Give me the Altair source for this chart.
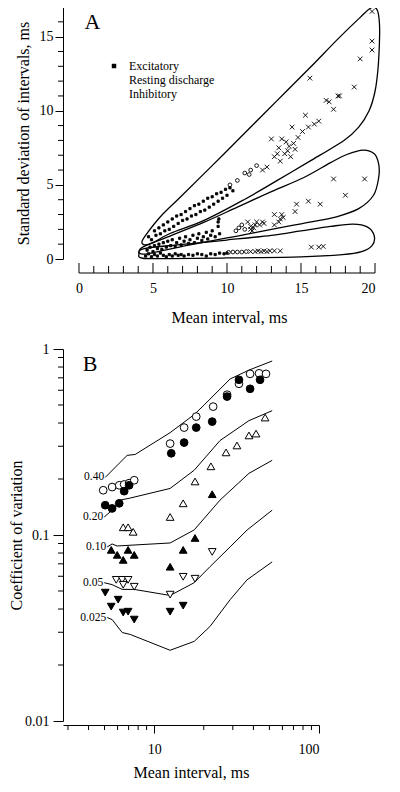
import altair as alt
import pandas as pd

FONT = "Liberation Serif"

# ======================= Panel A data =======================
kinds = ["Excitatory", "Resting discharge", "Inhibitory"]

exc_x = [4.7, 4.9, 5.1, 5.2, 5.4, 5.5, 5.7, 5.8, 6.0, 6.1, 6.3, 6.4, 6.6, 6.7, 6.9, 7.0, 7.2, 7.3, 7.5, 7.6,
         7.8, 7.9, 8.1, 8.2, 8.4, 8.5, 8.7, 8.8, 9.0, 9.1, 9.3, 9.4, 9.6, 9.7, 9.9, 10.0, 10.2, 10.4,
         4.6, 4.8, 5.0, 5.1, 5.3, 5.4, 5.6, 5.7, 5.9, 6.0, 6.2, 6.3, 6.5, 6.6, 6.8, 6.9, 7.1, 7.2, 7.4, 7.5,
         7.7, 7.8, 8.0, 8.1, 8.3, 8.4, 8.6, 8.7, 8.9, 9.0, 9.2, 9.4, 9.4, 9.45, 9.5,
         4.5, 4.7, 4.9, 5.1, 5.3, 5.5, 5.7, 5.9, 6.1, 6.3, 6.5, 6.7, 6.9, 7.1, 7.4, 7.7, 8.0, 8.3, 8.6, 8.9,
         9.2, 9.5, 9.8, 10.0]
exc_y = [1.5, 1.3, 1.9, 1.6, 2.1, 1.7, 2.3, 1.9, 2.5, 2.0, 2.7, 2.2, 2.9, 2.4, 3.0, 2.6, 3.2, 2.7, 3.4, 2.9,
         3.6, 3.0, 3.7, 3.2, 3.9, 3.3, 4.1, 3.5, 4.2, 3.7, 4.4, 3.9, 4.5, 4.1, 4.7, 4.3, 4.8, 4.6,
         0.6, 0.8, 0.5, 0.9, 0.7, 1.0, 0.65, 1.1, 0.8, 1.2, 0.9, 1.3, 0.85, 1.1, 1.4, 0.95, 1.2, 1.5, 1.05, 1.3,
         1.6, 1.1, 1.4, 1.7, 1.25, 1.5, 1.8, 1.35, 1.6, 1.9, 1.5, 2.2, 2.5, 2.7, 1.7,
         0.2, 0.35, 0.15, 0.3, 0.2, 0.4, 0.25, 0.15, 0.3, 0.2, 0.35, 0.25, 0.3, 0.2, 0.3, 0.25, 0.35, 0.3, 0.2, 0.35,
         0.3, 0.4, 0.35, 0.4]

rest_x = [10.2, 10.7, 11.2, 11.5, 11.6, 12.0, 10.6, 10.8, 11.0, 11.2, 10.1, 10.4, 10.7, 11.0, 11.3]
rest_y = [5.0, 5.3, 5.8, 5.7, 6.0, 6.3, 1.9, 2.1, 2.3, 2.0, 0.45, 0.47, 0.47, 0.47, 0.5]

inh_x = [19.8, 19.8, 19.8, 19.0, 15.6, 18.6, 16.7, 16.9, 17.5, 17.6, 17.2, 15.3, 14.4, 15.1, 15.5, 15.9, 16.2,
         13.0, 13.7, 14.0, 14.2, 14.5, 14.1, 14.6, 13.9, 14.3, 13.5, 13.4, 13.2, 12.7, 12.4, 13.6, 14.8,
         17.2, 19.3, 18.0, 15.5, 16.3, 14.7, 14.6, 13.2, 13.7, 13.6, 13.2, 11.4, 12.0, 12.4, 12.5, 11.6,
         11.7, 11.8, 11.9, 11.6, 12.2, 13.5, 13.8,
         11.6, 11.9, 12.1, 12.3, 12.5, 12.7, 12.9, 13.2, 13.6, 15.7, 16.2, 16.5]
inh_y = [16.7, 14.7, 14.1, 13.5, 12.2, 11.6, 10.7, 10.6, 11.0, 11.0, 10.1, 9.7, 8.9, 8.6, 8.9, 9.1, 9.3,
         8.1, 8.1, 7.9, 7.6, 7.8, 7.3, 7.4, 7.1, 6.9, 7.5, 7.1, 6.9, 6.2, 6.0, 6.6, 8.2,
         5.4, 5.4, 4.3, 3.9, 3.7, 3.7, 3.2, 3.0, 3.0, 2.7, 2.3, 2.5, 2.5, 2.5, 2.4, 2.2,
         1.9, 2.1, 2.3, 2.0, 2.3, 2.5, 2.8,
         0.5, 0.5, 0.55, 0.5, 0.55, 0.5, 0.55, 0.55, 0.55, 0.8, 0.8, 0.85]

# outlines drawn round the three groups
loop1_x = [4.45, 4.25, 4.5, 5.5, 6.82, 9.0, 11.15, 13.4, 15.6, 17.5, 19.0, 19.75, 20.15, 20.3, 20.3, 20.2, 20.0,
           19.6, 18.9, 17.9, 15.6, 13.4, 11.15, 8.45, 6.15, 5.0]
loop1_y = [0.95, 1.15, 1.6, 2.85, 4.15, 6.3, 8.45, 10.7, 12.9, 14.85, 16.3, 16.95, 16.8, 15.9, 14.6, 12.8, 11.3,
           10.0, 8.9, 8.0, 6.6, 5.3, 4.0, 2.6, 1.72, 1.1]
loop2_x = [4.3, 4.05, 4.4, 6.15, 8.5, 10.7, 13.0, 15.2, 17.0, 18.1, 19.2, 19.95, 20.25, 20.25, 19.9, 18.9, 17.4,
           15.7, 14.05, 10.7, 7.5, 5.0]
loop2_y = [0.33, 0.5, 0.85, 1.55, 2.5, 3.5, 4.55, 5.5, 6.5, 7.05, 7.35, 7.1, 6.4, 5.5, 4.3, 3.4, 2.85,
           2.5, 2.2, 1.55, 0.95, 0.42]
loop3_x = [4.3, 4.05, 4.4, 7.0, 10.0, 13.0, 15.0, 17.0, 18.5, 19.5, 19.95, 19.8, 19.1, 17.8, 15.0, 10.0, 6.0]
loop3_y = [0.05, 0.3, 0.7, 0.98, 1.28, 1.6, 1.9, 2.2, 2.35, 2.15, 1.55, 0.9, 0.5, 0.3, 0.15, 0.07, 0.03]

a_x_major = [0, 5, 10, 15, 20]
a_x_minor = [1, 2, 3, 4, 6, 7, 8, 9, 11, 12, 13, 14, 16, 17, 18, 19]
a_y_major = [0, 5, 10, 15]
a_y_minor = [1, 2, 3, 4, 6, 7, 8, 9, 11, 12, 13, 14, 16, 17]
a_label = {"t": ["A"], "x": [0.91], "y": [15.96]}

# ======================= Panel B data =======================
curve_names = ["0.40", "0.20", "0.10", "0.05", "0.025"]
c040_x = [5.05, 6.14, 6.86, 7.67, 12.5, 17.5, 20.1, 28.9, 37.6, 52]
c040_y = [0.204, 0.243, 0.268, 0.271, 0.355, 0.444, 0.50, 0.69, 0.77, 0.862]
c020_x = [4.98, 5.56, 6.22, 7.16, 12.5, 17.5, 25.1, 37.6, 52]
c020_y = [0.125, 0.136, 0.154, 0.158, 0.178, 0.223, 0.322, 0.412, 0.466]
c010_x = [5.19, 5.56, 5.96, 12.5, 17.5, 25.1, 37.6, 52]
c010_y = [0.0863, 0.0895, 0.0873, 0.0906, 0.1065, 0.154, 0.2146, 0.252]
c005_x = [4.98, 5.56, 6.40, 7.57, 12.5, 17.5, 21.8, 28.9, 36.6, 52]
c005_y = [0.0554, 0.0541, 0.051, 0.051, 0.0473, 0.0554, 0.0675, 0.0863, 0.1063, 0.136]
c0025_x = [5.19, 5.56, 6.4, 7.16, 12.5, 17.5, 21.8, 28.9, 36.6, 52]
c0025_y = [0.036, 0.0351, 0.0299, 0.0292, 0.024, 0.0268, 0.0322, 0.0449, 0.0574, 0.0717]

series = ["oc", "fc", "otu", "ftu", "otd", "ftd"]
oc_x = [4.91, 5.56, 6.14, 6.58, 7.05, 7.57, 12.5, 15.2, 18.0, 22.8, 27.7, 32.7, 38.2, 43.3, 47.7]
oc_y = [0.174, 0.181, 0.185, 0.187, 0.190, 0.197, 0.310, 0.378, 0.433, 0.490, 0.568, 0.650, 0.735, 0.74, 0.735]
fc_x = [5.05, 5.56, 6.14, 6.58, 7.05, 12.7, 15.2, 18.0, 22.5, 27.7, 32.7, 38.2, 43.9]
fc_y = [0.1446, 0.139, 0.148, 0.172, 0.185, 0.275, 0.314, 0.378, 0.407, 0.555, 0.683, 0.611, 0.683]
otu_x = [6.49, 6.95, 7.46, 12.5, 15.0, 17.7, 22.1, 27.3, 31.8, 37.6, 41.5, 47.1]
otu_y = [0.110, 0.110, 0.104, 0.125, 0.148, 0.194, 0.234, 0.278, 0.303, 0.343, 0.351, 0.428]
ftu_x = [5.49, 5.97, 6.49, 6.95, 7.57, 12.5, 15.0, 17.7, 22.5]
ftu_y = [0.0832, 0.0782, 0.0735, 0.0832, 0.0782, 0.0675, 0.0832, 0.0964, 0.1657]
otd_x = [5.89, 6.40, 6.95, 6.49, 7.57, 12.5, 15.0, 17.7, 22.5]
otd_y = [0.0574, 0.0574, 0.0574, 0.054, 0.0527, 0.0478, 0.0596, 0.0582, 0.0811]
ftd_x = [5.05, 5.49, 6.05, 6.49, 6.95, 7.57, 12.5, 15.0]
ftd_y = [0.049, 0.0412, 0.0449, 0.0383, 0.0387, 0.0351, 0.0387, 0.0417]

b_x_major = [10, 100]
b_x_minor = [3, 4, 5, 6, 7, 8, 9, 20, 30, 40, 50, 60, 70, 80, 90]
b_y_major = [0.01, 0.1, 1]
b_y_minor = [0.02, 0.03, 0.04, 0.05, 0.06, 0.07, 0.08, 0.09, 0.2, 0.3, 0.4, 0.5, 0.6, 0.7, 0.8, 0.9]
b_label = {"t": ["B"], "x": [4.09], "y": [0.831]}

# ======================= Panel A chart =======================
WA, HA = 312, 252
xA = alt.Scale(domain=[-1.08, 20], nice=False, zero=False)
yA = alt.Scale(domain=[0, 17], nice=False, zero=False)
axXA = alt.Axis(values=a_x_major, domain=False, ticks=False, offset=14, labelPadding=8,
                title="Mean interval, ms", titlePadding=14, titleX=166, grid=False)
axYA = alt.Axis(values=a_y_major, tickSize=8, labelPadding=2,
                title="Standard deviation of intervals, ms", titlePadding=8, grid=False)

def XA(f):
    return alt.X(f, scale=xA, axis=axXA)

def YA(f):
    return alt.Y(f, scale=yA, axis=axYA)

dfA = pd.concat([
    pd.DataFrame({"x": exc_x, "y": exc_y, "kind": kinds[0], "sz": 5}),
    pd.DataFrame({"x": rest_x, "y": rest_y, "kind": kinds[1], "sz": 14}),
    pd.DataFrame({"x": inh_x, "y": inh_y, "kind": kinds[2], "sz": 22}),
], ignore_index=True)

dfLoops = pd.concat([
    pd.DataFrame({"loop": n, "i": list(range(len(xs))), "x": xs, "y": ys})
    for n, xs, ys in [("l1", loop1_x, loop1_y), ("l2", loop2_x, loop2_y), ("l3", loop3_x, loop3_y)]
], ignore_index=True)

legA = alt.Legend(title=None, orient="none", legendX=45, legendY=53, labelFont=FONT, labelFontSize=12,
                  labelColor="black", symbolSize=20, symbolStrokeWidth=1, symbolStrokeColor="black",
                  rowPadding=2, labelOffset=9, padding=0)

loops = alt.Chart(dfLoops).mark_line(interpolate="cardinal-closed", color="black", strokeWidth=1.3).encode(
    x=XA("x:Q"), y=YA("y:Q"), detail="loop:N", order="i:Q")

ptsA = alt.Chart(dfA).mark_point(stroke="black", strokeWidth=0.9, opacity=1).encode(
    x=XA("x:Q"), y=YA("y:Q"),
    shape=alt.Shape("kind:N", scale=alt.Scale(domain=kinds, range=["square", "circle", "M-1,-1L1,1M-1,1L1,-1"]),
                    legend=legA),
    fill=alt.Fill("kind:N", scale=alt.Scale(domain=kinds, range=["black", "transparent", "transparent"]),
                  legend=legA),
    size=alt.Size("sz:Q", scale=None),
)

yminA = alt.Chart(pd.DataFrame({"y": a_y_minor})).mark_rule(color="black", strokeWidth=1).encode(
    y=YA("y:Q"), x=alt.value(-5), x2=alt.value(0))

xlineA = alt.Chart(pd.DataFrame({"x": [a_x_major[0]], "x2": [a_x_major[-1]]})).mark_rule(color="black", strokeWidth=1).encode(
    x=XA("x:Q"), x2="x2:Q", y=alt.value(HA + 14))
xmajA = alt.Chart(pd.DataFrame({"x": a_x_major})).mark_rule(color="black", strokeWidth=1).encode(
    x=XA("x:Q"), y=alt.value(HA + 14), y2=alt.value(HA + 4))
xminA = alt.Chart(pd.DataFrame({"x": a_x_minor})).mark_rule(color="black", strokeWidth=1).encode(
    x=XA("x:Q"), y=alt.value(HA + 14), y2=alt.value(HA + 7))

labA = alt.Chart(pd.DataFrame(a_label)).mark_text(font=FONT, fontSize=22, align="center", baseline="middle",
                                                  color="black").encode(
    x=XA("x:Q"), y=YA("y:Q"), text="t:N")

panelA = alt.layer(loops, yminA, xlineA, xmajA, xminA, ptsA, labA).properties(width=WA, height=HA)

# ======================= Panel B chart =======================
WB, HB = 256, 372
xB = alt.Scale(type="log", domain=[2.8, 100], nice=False)
yB = alt.Scale(type="log", domain=[0.01, 1], nice=False)
axXB = alt.Axis(values=b_x_major, format="~g", offset=4, tickSize=8, labelPadding=9,
                title="Mean interval, ms", titlePadding=8, grid=False)
axYB = alt.Axis(values=b_y_major, format="~g", tickSize=10, labelPadding=4,
                title="Coefficient of variation", titlePadding=0, grid=False)

def XB(f):
    return alt.X(f, scale=xB, axis=axXB)

def YB(f):
    return alt.Y(f, scale=yB, axis=axYB)

curves = [c040_x, c020_x, c010_x, c005_x, c0025_x]
curves_y = [c040_y, c020_y, c010_y, c005_y, c0025_y]
dfCurves = pd.concat([
    pd.DataFrame({"c": n, "i": list(range(len(xs))), "x": xs, "y": ys})
    for n, xs, ys in zip(curve_names, curves, curves_y)
], ignore_index=True)
dfCurveLab = pd.DataFrame({"c": curve_names, "x": [xs[0] for xs in curves], "y": [ys[0] for ys in curves_y]})

marker_x = [oc_x, fc_x, otu_x, ftu_x, otd_x, ftd_x]
marker_y = [oc_y, fc_y, otu_y, ftu_y, otd_y, ftd_y]
dfB = pd.concat([
    pd.DataFrame({"s": n, "x": xs, "y": ys}) for n, xs, ys in zip(series, marker_x, marker_y)
], ignore_index=True)

lines = alt.Chart(dfCurves).mark_line(color="black", strokeWidth=1).encode(
    x=XB("x:Q"), y=YB("y:Q"), detail="c:N", order="i:Q")

clab = alt.Chart(dfCurveLab).mark_text(font=FONT, fontSize=11.5, align="right", baseline="middle", dx=-1,
                                       color="black").encode(
    x=XB("x:Q"), y=YB("y:Q"), text="c:N")

ptsB = alt.Chart(dfB).mark_point(stroke="black", strokeWidth=1, opacity=1, size=60).encode(
    x=XB("x:Q"), y=YB("y:Q"),
    shape=alt.Shape("s:N", scale=alt.Scale(domain=series,
                                           range=["circle", "circle", "triangle-up", "triangle-up",
                                                  "triangle-down", "triangle-down"]), legend=None),
    fill=alt.Fill("s:N", scale=alt.Scale(domain=series,
                                         range=["white", "black", "white", "black", "white", "black"]),
                  legend=None),
)

yminB = alt.Chart(pd.DataFrame({"y": b_y_minor})).mark_rule(color="black", strokeWidth=1).encode(
    y=YB("y:Q"), x=alt.value(-5), x2=alt.value(0))
xminB = alt.Chart(pd.DataFrame({"x": b_x_minor})).mark_rule(color="black", strokeWidth=1).encode(
    x=XB("x:Q"), y=alt.value(HB + 4), y2=alt.value(HB + 9))

labB = alt.Chart(pd.DataFrame(b_label)).mark_text(font=FONT, fontSize=22, align="center", baseline="middle",
                                                  color="black").encode(
    x=XB("x:Q"), y=YB("y:Q"), text="t:N")

panelB = alt.layer(lines, clab, yminB, xminB, ptsB, labB).properties(width=WB, height=HB)

chart = alt.vconcat(panelA, panelB, spacing=17).resolve_scale(
    shape="independent", fill="independent", x="independent", y="independent"
).resolve_legend(shape="independent", fill="independent").properties(
    padding={"left": 0, "top": -4, "right": 0, "bottom": 0}
).configure_axis(
    labelFont=FONT, titleFont=FONT, labelFontSize=14, titleFontSize=16, titleFontWeight="normal",
    labelColor="black", titleColor="black", domainColor="black", tickColor="black", grid=False,
    domainWidth=1, tickWidth=1
).configure_view(strokeWidth=0)

chart.save("out.html", embed_options={"renderer": "svg", "actions": False})
